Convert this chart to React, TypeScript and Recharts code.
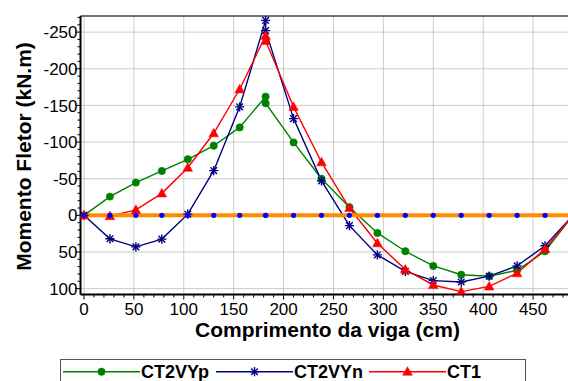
import React from 'react';
import { LineChart, Line, XAxis, YAxis, ReferenceLine, Legend } from 'recharts';

// Position along the beam (cm)
const positions = [0, 26, 52, 78, 104, 130, 156, 182, 182, 210, 238, 266, 294, 322, 350, 378, 406, 434, 462, 490];
// Bending moment (kN.m)
const ct2vyp = [0, -25.6, -44.7, -60.6, -76.5, -95, -120, -162, -153, -99.5, -50, -11, 24, 49, 69, 81, 83, 75, 49, 0];
const ct2vyn = [0, 32, 43, 32.4, -1.6, -61, -148, -266, -252, -132, -47, 14, 54, 76.5, 89, 91, 83, 69, 41.5, 0];
const ct1 = [0, 1, -7.5, -30, -65, -112, -172, -245, -238, -148, -72.5, -10, 38, 74, 95, 104, 97, 79, 46, 0];
const zeroRef = [0, 0, 0, 0, 0, 0, 0, 0, 0, 0, 0, 0, 0, 0, 0, 0, 0, 0, 0, 0];

const seriesNames = ['CT2VYp', 'CT2VYn', 'CT1'];
const seriesColors = ['#008000', '#000080', '#ff0000'];

const xMajorTicks = [0, 50, 100, 150, 200, 250, 300, 350, 400, 450];
const xMinorTicks = [0, 10, 20, 30, 40, 50, 60, 70, 80, 90, 100, 110, 120, 130, 140, 150, 160, 170, 180, 190, 200, 210, 220, 230, 240, 250, 260, 270, 280, 290, 300, 310, 320, 330, 340, 350, 360, 370, 380, 390, 400, 410, 420, 430, 440, 450, 460, 470, 480];
const yMajorTicks = [-250, -200, -150, -100, -50, 0, 50, 100];
const yMinorTicks = [-270, -260, -250, -240, -230, -220, -210, -200, -190, -180, -170, -160, -150, -140, -130, -120, -110, -100, -90, -80, -70, -60, -50, -40, -30, -20, -10, 0, 10, 20, 30, 40, 50, 60, 70, 80, 90, 100];

const xDomain = [-3.5, 485];
const yDomain = [-272, 108];

const xTitle = 'Comprimento da viga (cm)';
const yTitle = 'Momento Fletor (kN.m)';

const data = positions.map((x, i) => ({
  x,
  p: ct2vyp[i],
  n: ct2vyn[i],
  c: ct1[i],
  z: zeroRef[i],
}));

const FONT = '"Liberation Sans", Arial, sans-serif';

const Circle = ({ cx, cy, color }: any) => <circle cx={cx} cy={cy} r={3.7} fill={color} stroke={color} strokeWidth={0.5} />;
const Star = ({ cx, cy, color }: any) => {
  const a = 4.6;
  const d = 3.3;
  return (
    <g stroke={color} strokeWidth={1.4}>
      <line x1={cx} y1={cy - a} x2={cx} y2={cy + a} />
      <line x1={cx - a} y1={cy} x2={cx + a} y2={cy} />
      <line x1={cx - d} y1={cy - d} x2={cx + d} y2={cy + d} />
      <line x1={cx - d} y1={cy + d} x2={cx + d} y2={cy - d} />
    </g>
  );
};
const Tri = ({ cx, cy, color }: any) => (
  <polygon points={`${cx},${cy - 5} ${cx - 4.8},${cy + 3.6} ${cx + 4.8},${cy + 3.6}`} fill={color} stroke={color} strokeWidth={0.5} />
);
const shapes = [Circle, Star, Tri];

const makeDot = (idx: number) => (props: any) => {
  const { cx, cy, index } = props;
  if (cx == null || cy == null) return <g key={`d${idx}-${index}`} />;
  const S = shapes[idx];
  return <S key={`d${idx}-${index}`} cx={cx} cy={cy} color={seriesColors[idx]} />;
};

const zeroDot = (props: any) => {
  const { cx, cy, index } = props;
  if (cx == null || cy == null) return <g key={`z${index}`} />;
  return <circle key={`z${index}`} cx={cx} cy={cy} r={2.6} fill="#0000ff" />;
};

const XTick = (props: any) => {
  const { x, y, payload } = props;
  const v = payload.value;
  const major = xMajorTicks.includes(v);
  return (
    <g>
      <line x1={x} x2={x} y1={y} y2={y + (major ? 5 : 3)} stroke="#000" strokeWidth={1} />
      {major && (
        <text x={x} y={y + 20.5} textAnchor="middle" fontSize={17} fill="#000" fontFamily={FONT}>
          {v}
        </text>
      )}
    </g>
  );
};

const YTick = (props: any) => {
  const { x, y, payload } = props;
  const v = payload.value;
  const major = yMajorTicks.includes(v);
  return (
    <g>
      <line x1={x} x2={x - (major ? 5 : 3)} y1={y} y2={y} stroke="#000" strokeWidth={1} />
      {major && (
        <text x={x - 3} y={y} dy="0.36em" textAnchor="end" fontSize={17} fill="#000" fontFamily={FONT}>
          {v}
        </text>
      )}
    </g>
  );
};

const legendStarts = [3, 156, 309];
const renderLegend = () => (
  <svg width={470} height={30} style={{ display: 'block', overflow: 'visible' }}>
    <rect x={0.5} y={0.5} width={465} height={40} fill="#fff" stroke="#555" strokeWidth={1} />
    {seriesNames.map((name, i) => {
      const s = legendStarts[i];
      const S = shapes[i];
      return (
        <g key={name}>
          <line x1={s} x2={s + 77} y1={12.7} y2={12.7} stroke={seriesColors[i]} strokeWidth={1.4} />
          <S cx={s + 38.5} cy={12.7} color={seriesColors[i]} />
          <text x={s + 78} y={19.3} fontSize={18} fontWeight="bold" fill="#000" fontFamily={FONT}>
            {name}
          </text>
        </g>
      );
    })}
  </svg>
);

export default function App() {
  return (
    <div style={{ position: 'absolute', left: 0, top: 0, background: '#fff' }}>
      <LineChart width={568} height={381} data={data} margin={{ top: 16, right: 0, bottom: 0, left: 0 }}>
        <XAxis
          dataKey="x"
          type="number"
          domain={xDomain}
          allowDataOverflow
          ticks={xMinorTicks}
          interval={0}
          tick={<XTick />}
          tickLine={false}
          tickSize={0}
          tickMargin={0}
          height={86.5}
          axisLine={{ stroke: '#000', strokeWidth: 2 }}
        />
        <YAxis
          type="number"
          domain={yDomain}
          reversed
          allowDataOverflow
          ticks={yMinorTicks}
          interval={0}
          tick={<YTick />}
          tickLine={false}
          tickSize={0}
          tickMargin={0}
          width={80.5}
          axisLine={{ stroke: '#000', strokeWidth: 2 }}
        />
        {xMajorTicks.map((t) => (
          <ReferenceLine key={`vx${t}`} x={t} stroke="#9a9a9a" strokeDasharray="1 1" strokeWidth={1} />
        ))}
        {yMajorTicks.map((t) => (
          <ReferenceLine key={`hy${t}`} y={t} stroke="#9a9a9a" strokeDasharray="1 1" strokeWidth={1} />
        ))}
        <ReferenceLine y={yDomain[0]} stroke="#444" strokeWidth={1.5} />
        <Line dataKey="p" name={seriesNames[0]} stroke={seriesColors[0]} strokeWidth={1.4} dot={makeDot(0)} activeDot={false} isAnimationActive={false} />
        <Line dataKey="n" name={seriesNames[1]} stroke={seriesColors[1]} strokeWidth={1.4} dot={makeDot(1)} activeDot={false} isAnimationActive={false} />
        <Line dataKey="c" name={seriesNames[2]} stroke={seriesColors[2]} strokeWidth={1.4} dot={makeDot(2)} activeDot={false} isAnimationActive={false} />
        <ReferenceLine y={0} stroke="#ff8c00" strokeWidth={4} />
        <Line dataKey="z" stroke="none" dot={zeroDot} activeDot={false} legendType="none" isAnimationActive={false} />
        <Legend
          layout="horizontal"
          verticalAlign="middle"
          align="center"
          wrapperStyle={{ left: 60, top: 359, width: 470, height: 30 }}
          content={renderLegend}
        />
        <text x={327.5} y={337} textAnchor="middle" fontSize={21} fontWeight="bold" fill="#000" fontFamily={FONT}>
          {xTitle}
        </text>
        <text x={30.5} y={156.5} textAnchor="middle" fontSize={21} fontWeight="bold" fill="#000" fontFamily={FONT} transform="rotate(-90 30.5 156.5)">
          {yTitle}
        </text>
      </LineChart>
    </div>
  );
}
